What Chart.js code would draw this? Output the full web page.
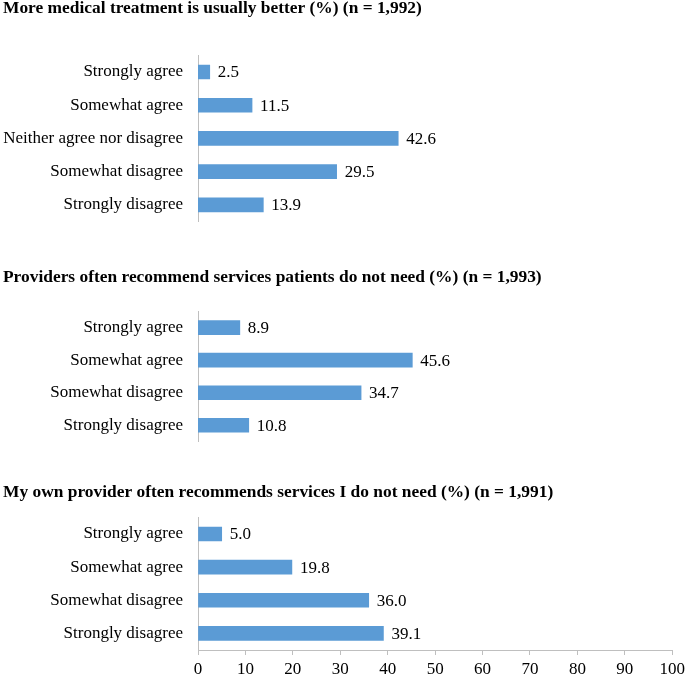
<!DOCTYPE html>
<html>
<head>
<meta charset="utf-8">
<script src="https://cdn.jsdelivr.net/npm/chart.js@4/dist/chart.umd.min.js"></script>
<style>
  html, body { margin: 0; padding: 0; background: #fff; }
  #wrap { position: relative; width: 685px; height: 676px; overflow: hidden; }
  #wrap canvas { position: absolute; left: 0; }
</style>
</head>
<body>
<div id="wrap">
  <canvas id="c1" width="685" height="230" style="top:0px"></canvas>
  <canvas id="c2" width="685" height="185" style="top:265px"></canvas>
  <canvas id="c3" width="685" height="196" style="top:480px"></canvas>
</div>
<script>
// data
const titles = [
  'More medical treatment is usually better (%) (n = 1,992)',
  'Providers often recommend services patients do not need (%) (n = 1,993)',
  'My own provider often recommends services I do not need (%) (n = 1,991)'
];
const fiveCats = ['Strongly agree', 'Somewhat agree', 'Neither agree nor disagree', 'Somewhat disagree', 'Strongly disagree'];
const fourCats = ['Strongly agree', 'Somewhat agree', 'Somewhat disagree', 'Strongly disagree'];
const treatmentBetter = [2.5, 11.5, 42.6, 29.5, 13.9];
const providersRecommend = [8.9, 45.6, 34.7, 10.8];
const ownProvider = [5.0, 19.8, 36.0, 39.1];
const xTicks = [0, 10, 20, 30, 40, 50, 60, 70, 80, 90, 100];

const FONT = "'Liberation Serif', 'Times New Roman', serif";
const BLUE = '#5B9BD5';
const AXIS = '#BFBFBF';

// writes the value just right of each bar
const valueLabels = {
  id: 'valueLabels',
  afterDatasetsDraw(chart) {
    const ctx = chart.ctx;
    ctx.save();
    ctx.font = '17px ' + FONT;
    ctx.fillStyle = '#000';
    ctx.textBaseline = 'middle';
    ctx.textAlign = 'left';
    chart.getDatasetMeta(0).data.forEach((bar, i) => {
      const v = chart.data.datasets[0].data[i];
      ctx.fillText(v.toFixed(1), bar.x + 8, bar.y + 1);
    });
    ctx.restore();
  }
};

function makePanel(id, title, cats, values, opt) {
  new Chart(document.getElementById(id), {
    type: 'bar',
    data: {
      labels: cats,
      datasets: [{ data: values, backgroundColor: BLUE, borderWidth: 0, barThickness: 14 }]
    },
    plugins: [valueLabels],
    options: {
      indexAxis: 'y',
      responsive: false,
      animation: false,
      layout: { padding: { left: 3, top: 0, right: opt.right, bottom: opt.bottom } },
      plugins: {
        legend: { display: false },
        tooltip: { enabled: false },
        title: {
          display: true,
          text: title,
          align: 'start',
          color: '#000',
          font: { family: FONT, size: 17.4, weight: 'bold', lineHeight: 1 },
          padding: { top: opt.titleTop, bottom: opt.titleBottom }
        }
      },
      scales: {
        y: {
          // gap between labels and axis comes from tickLength (ticks not drawn)
          grid: { display: false, drawTicks: true, tickLength: 15 },
          border: { display: true, color: AXIS, width: 1 },
          ticks: { color: '#000', padding: 0, font: { family: FONT, size: 17, lineHeight: 1 } },
          afterFit(scale) { scale.width = 195; }
        },
        x: {
          display: opt.showX,
          min: 0,
          max: 100,
          afterBuildTicks(scale) { scale.ticks = xTicks.map(v => ({ value: v })); },
          grid: { display: true, drawOnChartArea: false, drawTicks: true, tickLength: 5, color: AXIS },
          border: { display: true, color: AXIS, width: 1 },
          ticks: { color: '#000', padding: 0, maxRotation: 0, font: { family: FONT, size: 17, lineHeight: 1.76 } },
          afterFit(scale) { if (opt.showX) scale.height = 26; }
        }
      }
    }
  });
}

makePanel('c1', titles[0], fiveCats, treatmentBetter, { right: 17, bottom: 8, titleTop: 0, titleBottom: 38, showX: false });
makePanel('c2', titles[1], fourCats, providersRecommend, { right: 17, bottom: 7, titleTop: 4, titleBottom: 25, showX: false });
makePanel('c3', titles[2], fourCats, ownProvider, { right: 7, bottom: 0, titleTop: 4, titleBottom: 16, showX: true });
</script>
</body>
</html>
